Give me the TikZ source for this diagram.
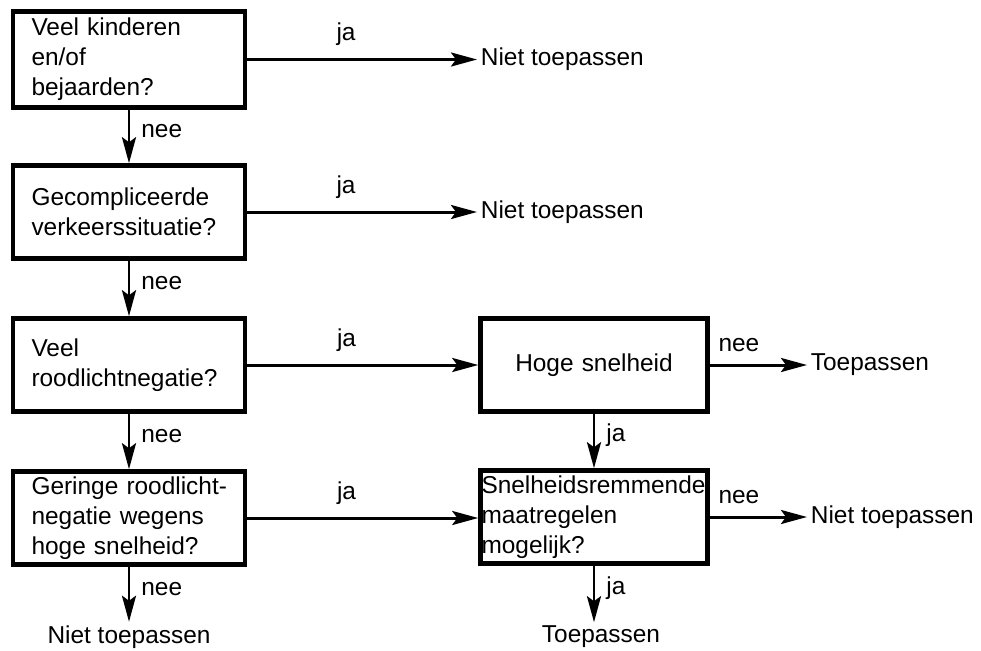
\documentclass[tikz,border=0pt]{standalone}
\usepackage{fontspec}
\setmainfont{Liberation Sans}
\usetikzlibrary{arrows.meta}

\begin{document}
\begin{tikzpicture}[x=0.02cm,y=-0.02cm,
    every node/.style={font=\fontsize{13.9}{17}\selectfont},
    box/.style={draw,line width=2.6pt,minimum width=4.64cm,minimum height=1.86cm,
      text width=3.9cm,align=left,inner sep=0pt},
    rbox/.style={box,minimum width=4.54cm,text width=4.5cm},
    flow/.style={line width=1.7pt,-{Stealth[length=5.2mm,width=2.8mm,inset=1mm]}},
    answer/.style={inner sep=2pt}]

  \useasboundingbox (0,0) rectangle (981,650);

  % questions, left column
  \node[box,minimum height=1.92cm] (q1) at (129,59.5) {Veel kinderen\\en/of\\bejaarden?};
  \node[box] (q2) at (129,212) {Gecompliceerde\\verkeerssituatie?};
  \node[box] (q3) at (129,365) {Veel\\roodlichtnegatie?};
  \node[box] (q4) at (129,518) {\mbox{Geringe roodlicht-}\\negatie wegens\\hoge snelheid?};

  % questions, right column
  \node[rbox,align=center] (hs) at (594,365) {Hoge snelheid};
  \node[rbox] (sm) at (594,517) {Snelheidsremmende\\maatregelen\\mogelijk?};

  % outcomes
  \node[answer,anchor=west] (n1) at (477,59.5) {Niet toepassen};
  \node[answer,anchor=west] (n2) at (477,212) {Niet toepassen};
  \node[answer,anchor=west] (t1) at (807,365) {Toepassen};
  \node[answer,anchor=west] (n3) at (807,517) {Niet toepassen};
  \node[answer] (n4) at (129,637) {Niet toepassen};
  \node[answer] (t2) at (601,637) {Toepassen};

  % ja branches
  \draw[flow] (q1.east) -- node[pos=0.43,above=0.13cm] {ja} (n1.west);
  \draw[flow] (q2.east) -- node[pos=0.43,above=0.13cm] {ja} (n2.west);
  \draw[flow] (q3.east) -- node[pos=0.43,above=0.13cm] {ja} (hs.west);
  \draw[flow] (q4.east) -- node[pos=0.43,above=0.13cm] {ja} (q4.east -| sm.west);

  % nee branches
  \draw[flow] (q1.south) -- node[pos=0.4,right=0.1cm] {nee} (q2.north);
  \draw[flow] (q2.south) -- node[pos=0.4,right=0.1cm] {nee} (q3.north);
  \draw[flow] (q3.south) -- node[pos=0.4,right=0.1cm] {nee} (q4.north);
  \draw[flow] (q4.south) -- node[pos=0.4,right=0.1cm] {nee} (n4.north);
  \draw[flow] (hs.east) -- node[pos=0.3,above=0.11cm] {nee} (t1.west);
  \draw[flow] (sm.east) -- node[pos=0.3,above=0.11cm] {nee} (n3.west);

  % right column down
  \draw[flow] (hs.south) -- node[pos=0.4,right=0.1cm] {ja} (sm.north);
  \draw[flow] (sm.south) -- node[pos=0.4,right=0.1cm] {ja} (sm.south |- t2.north);
\end{tikzpicture}
\end{document}
